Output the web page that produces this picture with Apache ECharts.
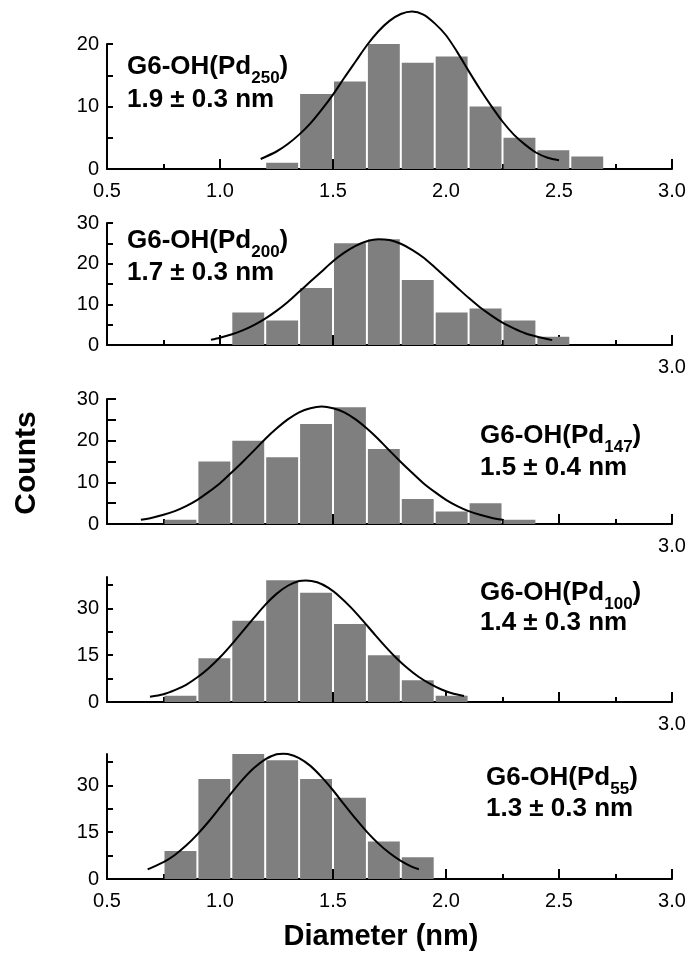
<!DOCTYPE html>
<html>
<head>
<meta charset="utf-8">
<script src="https://cdn.jsdelivr.net/npm/echarts@6/dist/echarts.min.js"></script>
<style>
html, body { margin: 0; padding: 0; background: #fff; }
#sizeChart { width: 694px; height: 955px; }
</style>
</head>
<body>
<div id="sizeChart"></div>
<script>
// histogram bins: lower edge (nm) and counts, 0.15 nm wide
var binWidth = 0.15;
var edges250 = [1.2, 1.35, 1.5, 1.65, 1.8, 1.95, 2.1, 2.25, 2.4, 2.55];
var counts250 = [1, 12, 14, 20, 17, 18, 10, 5, 3, 2];
var edges200 = [1.05, 1.2, 1.35, 1.5, 1.65, 1.8, 1.95, 2.1, 2.25, 2.4];
var counts200 = [8, 6, 14, 25, 26, 16, 8, 9, 6, 2];
var edges147 = [0.75, 0.9, 1.05, 1.2, 1.35, 1.5, 1.65, 1.8, 1.95, 2.1, 2.25];
var counts147 = [1, 15, 20, 16, 24, 28, 18, 6, 3, 5, 1];
var edges100 = [0.75, 0.9, 1.05, 1.2, 1.35, 1.5, 1.65, 1.8, 1.95];
var counts100 = [2, 14, 26, 39, 35, 25, 15, 7, 2];
var edges55 = [0.75, 0.9, 1.05, 1.2, 1.35, 1.5, 1.65, 1.8];
var counts55 = [9, 32, 40, 38, 32, 26, 12, 7];

// gaussian fit curves
var fitX250 = [1.18, 1.25, 1.3, 1.35, 1.4, 1.45, 1.5, 1.55, 1.6, 1.65, 1.7, 1.75, 1.8, 1.85, 1.9, 1.95, 2.0, 2.05, 2.1, 2.15, 2.2, 2.25, 2.3, 2.35, 2.4, 2.45, 2.5];
var fitY250 = [1.6, 2.8, 4.0, 5.5, 7.3, 9.5, 11.9, 14.6, 17.2, 19.8, 22.0, 23.7, 24.8, 25.2, 24.7, 23.3, 21.4, 18.7, 15.7, 12.8, 10.1, 7.6, 5.5, 3.9, 2.6, 1.8, 1.4];
var fitX200 = [0.96, 1.0, 1.05, 1.1, 1.15, 1.2, 1.25, 1.3, 1.35, 1.4, 1.45, 1.5, 1.55, 1.6, 1.65, 1.7, 1.75, 1.8, 1.85, 1.9, 1.95, 2.0, 2.05, 2.1, 2.15, 2.2, 2.25, 2.3, 2.35, 2.4, 2.47];
var fitY200 = [1.3, 1.8, 2.6, 3.6, 4.9, 6.5, 8.4, 10.6, 13.1, 15.6, 18.1, 20.6, 22.7, 24.4, 25.5, 26.0, 25.8, 24.9, 23.4, 21.5, 19.1, 16.6, 14.1, 11.6, 9.3, 7.3, 5.5, 4.1, 2.9, 2.1, 1.2];
var fitX147 = [0.65, 0.7, 0.75, 0.8, 0.85, 0.9, 0.95, 1.0, 1.05, 1.1, 1.15, 1.2, 1.25, 1.3, 1.35, 1.4, 1.45, 1.5, 1.55, 1.6, 1.65, 1.7, 1.75, 1.8, 1.85, 1.9, 1.95, 2.0, 2.05, 2.1, 2.15, 2.2, 2.25];
var fitY147 = [1.0, 1.5, 2.2, 3.1, 4.3, 5.8, 7.7, 9.8, 12.3, 14.9, 17.6, 20.4, 22.9, 25.1, 26.8, 27.8, 28.2, 27.8, 26.8, 25.1, 22.9, 20.4, 17.6, 14.9, 12.3, 9.8, 7.7, 5.8, 4.3, 3.1, 2.2, 1.5, 1.0];
var fitX100 = [0.69, 0.75, 0.8, 0.85, 0.9, 0.95, 1.0, 1.05, 1.1, 1.15, 1.2, 1.25, 1.3, 1.35, 1.38, 1.43, 1.48, 1.53, 1.58, 1.63, 1.68, 1.73, 1.78, 1.83, 1.88, 1.93, 1.98, 2.03, 2.08];
var fitY100 = [1.7, 2.5, 3.8, 5.5, 7.9, 10.8, 14.3, 18.3, 22.6, 26.9, 31.1, 34.6, 37.2, 38.7, 38.9, 38.3, 36.5, 33.7, 30.2, 26.2, 22.0, 17.9, 14.1, 10.8, 8.0, 5.8, 4.0, 2.7, 1.9];
var fitX55 = [0.68, 0.75, 0.8, 0.85, 0.9, 0.95, 1.0, 1.05, 1.1, 1.15, 1.2, 1.25, 1.28, 1.3, 1.35, 1.4, 1.45, 1.5, 1.55, 1.6, 1.65, 1.7, 1.75, 1.8, 1.85, 1.88];
var fitY55 = [3.1, 5.4, 7.7, 10.7, 14.3, 18.4, 22.9, 27.5, 31.8, 35.5, 38.3, 39.9, 40.1, 40.0, 38.7, 36.2, 32.6, 28.4, 23.8, 19.3, 15.1, 11.4, 8.3, 5.8, 3.9, 3.1];

// tick labels
var xLabelsAll = [0.5, 1.0, 1.5, 2.0, 2.5, 3.0];
var xLabelsEnd = [3.0];
var yTicks20 = [0, 5, 10, 15, 20];
var yLabels20 = [0, 10, 20];
var yTicks30 = [0, 5, 10, 15, 20, 25, 30];
var yLabels30 = [0, 10, 20, 30];
var yTicks40 = [0, 7.5, 15, 22.5, 30, 37.5];
var yLabels40 = [0, 15, 30];

var sampleNames = ["250", "200", "147", "100", "55"];
var sizeTexts = ["1.9 ± 0.3 nm", "1.7 ± 0.3 nm", "1.5 ± 0.4 nm", "1.4 ± 0.3 nm", "1.3 ± 0.3 nm"];

var font = "'Liberation Sans', Arial, sans-serif";

var panels = [
  { edges: edges250, counts: counts250, fitX: fitX250, fitY: fitY250, yMax: 20, yTicks: yTicks20, yLabels: yLabels20, xLabels: xLabelsAll, top: 44, height: 125, tickLen: 6, tx: 127, ty: [67, 100] },
  { edges: edges200, counts: counts200, fitX: fitX200, fitY: fitY200, yMax: 30, yTicks: yTicks30, yLabels: yLabels30, xLabels: xLabelsEnd, top: 223, height: 122, tickLen: 6, tx: 127, ty: [241, 273] },
  { edges: edges147, counts: counts147, fitX: fitX147, fitY: fitY147, yMax: 30, yTicks: yTicks30, yLabels: yLabels30, xLabels: xLabelsEnd, top: 399, height: 125, tickLen: 9, tx: 480, ty: [436, 468] },
  { edges: edges100, counts: counts100, fitX: fitX100, fitY: fitY100, yMax: 40, yTicks: yTicks40, yLabels: yLabels40, xLabels: xLabelsEnd, top: 577, height: 125, tickLen: 6, tx: 480, ty: [593, 623] },
  { edges: edges55, counts: counts55, fitX: fitX55, fitY: fitY55, yMax: 40, yTicks: yTicks40, yLabels: yLabels40, xLabels: xLabelsAll, top: 754, height: 125, tickLen: 6, tx: 486, ty: [778, 809] }
];

function renderBar(params, api) {
  var p0 = api.coord([api.value(0), api.value(2)]);
  var p1 = api.coord([api.value(1), 0]);
  return {
    type: "rect",
    shape: { x: p0[0] + 1, y: p0[1], width: p1[0] - p0[0] - 2, height: p1[1] - p0[1] },
    style: { fill: "#7f7f7f" }
  };
}

var axisLineStyle = { color: "#000", width: 2 };
var grids = [], xAxes = [], yAxes = [], series = [], texts = [];

panels.forEach(function (p, i) {
  grids.push({ left: 107, width: 565, top: p.top, height: p.height });
  xAxes.push({
    type: "value", gridIndex: i, min: 0.5, max: 3, interval: 0.5,
    axisLine: { show: true, onZero: false, lineStyle: axisLineStyle },
    axisTick: { show: true, inside: true, length: 10, lineStyle: axisLineStyle },
    minorTick: { show: true, splitNumber: 2, length: 5, lineStyle: axisLineStyle },
    splitLine: { show: false },
    minorSplitLine: { show: false },
    axisLabel: {
      customValues: p.xLabels,
      formatter: function (v) { return v.toFixed(1); },
      color: "#000", fontSize: 20, fontFamily: font, margin: 12
    }
  });
  yAxes.push({
    type: "value", gridIndex: i, min: 0, max: p.yMax,
    axisLine: { show: true, lineStyle: axisLineStyle },
    axisTick: { show: true, inside: true, length: p.tickLen, customValues: p.yTicks, lineStyle: axisLineStyle },
    splitLine: { show: false },
    axisLabel: { customValues: p.yLabels, color: "#000", fontSize: 20, fontFamily: font, margin: 8 }
  });
  series.push({
    type: "custom", xAxisIndex: i, yAxisIndex: i,
    renderItem: renderBar,
    encode: { x: [0, 1], y: 2 },
    data: p.edges.map(function (e, k) { return [e, e + binWidth, p.counts[k]]; })
  });
  series.push({
    type: "line", xAxisIndex: i, yAxisIndex: i,
    smooth: 0.3, showSymbol: false, clip: false, z: 5,
    lineStyle: { color: "#000", width: 2 },
    data: p.fitX.map(function (x, k) { return [x, p.fitY[k]]; })
  });
  texts.push({
    type: "text",
    style: {
      x: p.tx, y: p.ty[0], align: "left", verticalAlign: "middle",
      text: "{b|G6-OH(Pd}{s|" + sampleNames[i] + "}{b|)}",
      rich: {
        b: { fontSize: 26, fontWeight: "bold", fontFamily: font, lineHeight: 40, fill: "#000" },
        s: { fontSize: 17, fontWeight: "bold", fontFamily: font, lineHeight: 17, verticalAlign: "bottom", fill: "#000" }
      }
    }
  });
  texts.push({
    type: "text",
    style: {
      x: p.tx, y: p.ty[1], align: "left", verticalAlign: "middle",
      text: sizeTexts[i], fontSize: 26, fontWeight: "bold", fontFamily: font, fill: "#000"
    }
  });
});

texts.push({
  type: "text", x: 27, y: 463, rotation: Math.PI / 2,
  style: { x: 0, y: 0, align: "center", verticalAlign: "middle", text: "Counts", fontSize: 30, fontWeight: "bold", fontFamily: font, fill: "#000" }
});
texts.push({
  type: "text",
  style: { x: 381, y: 937, align: "center", verticalAlign: "middle", text: "Diameter (nm)", fontSize: 29, fontWeight: "bold", fontFamily: font, fill: "#000" }
});

var sizeChart = echarts.init(document.getElementById("sizeChart"));
sizeChart.setOption({
  backgroundColor: "#fff",
  animation: false,
  grid: grids,
  xAxis: xAxes,
  yAxis: yAxes,
  series: series,
  graphic: texts
});
</script>
</body>
</html>
